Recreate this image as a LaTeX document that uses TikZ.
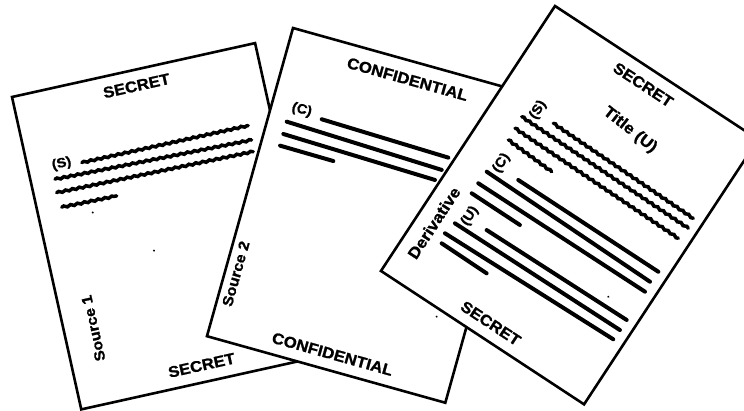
\documentclass[tikz,border=0pt]{standalone}
\usepackage{fontspec}
\setmainfont{Liberation Sans}
\newfontfamily\labfont{Liberation Sans Bold}[FakeStretch=1.08, FakeBold=1.2]
\usetikzlibrary{decorations.pathmorphing}
\begin{document}
\begin{tikzpicture}[x=1pt,y=-1pt,
  page/.style={draw=black, fill=white, line width=2.6pt, line join=miter},
  txtline/.style={line width=4pt, line cap=round},
  wavy/.style={line width=3.5pt, line cap=round, decorate,
    decoration={snake, amplitude=0.8pt, segment length=7pt}},
  lab/.style={font=\labfont\fontsize{15.5}{15.5}\selectfont, inner sep=0pt, transform shape},
  src/.style={font=\labfont\fontsize{14.7}{14.7}\selectfont, inner sep=0pt, transform shape},
  big/.style={font=\labfont\fontsize{15.9}{15.9}\selectfont, inner sep=0pt, transform shape},
  pmark/.style={font=\labfont\fontsize{13.5}{13.5}\selectfont, inner sep=0pt, transform shape},
  speck/.style={fill=black}
]
\useasboundingbox (0,0) rectangle (744,411);
\clip (0,0) rectangle (744,411);

% ---------- page 1 (Source 1) ----------
\begin{scope}[shift={(12,97)}, rotate=12.5]
  \draw[page] (0,0) -- (249,0) -- (249,320) -- (0,320) -- cycle;
  \node[lab] (p1top) at (124,16) {SECRET};
  \node[pmark] (p1s) at (34,76) {(S)};
  \draw[wavy] (54,79.2) -- (224.4,79);
  \draw[wavy] (24.2,89.6) -- (224.6,93.8);
  \draw[wavy] (22.9,103.1) -- (223.7,105.5);
  \draw[wavy] (24.7,118.4) -- (80.8,119.2);
  \fill[speck] (53.8,130.3) circle (1.1);
  \fill[speck] (105.4,180.7) circle (1.1);
  \node[src, rotate=90] (p1src) at (29.4,243.4) {Source 1};
  \node[lab] (p1bot) at (127,303) {SECRET};
\end{scope}

% ---------- page 2 (Source 2) ----------
\begin{scope}[shift={(293,28)}, rotate=-15.6]
  \draw[page] (0,0) -- (247.5,0) -- (247.5,320) -- (0,320) -- cycle;
  \node[lab] (p2top) at (124.1,18.5) {CONFIDENTIAL};
  \node[pmark] (p2c) at (30.5,76.6) {(C)};
  \draw[txtline] (52.2,80.2) -- (184.5,83.1);
  \draw[txtline] (19.1,91.9) -- (181.4,96.7);
  \draw[txtline] (19.2,104.7) -- (177.6,108.2);
  \draw[txtline] (19.2,116.8) -- (74.6,117.3);
  \fill[speck] (216,239.4) circle (1.1);
  \node[src, rotate=90] (p2src) at (11,252.1) {Source 2};
  \node[lab] (p2bot) at (125.7,303.5) {CONFIDENTIAL};
\end{scope}

% ---------- page 3 (Derivative) ----------
\begin{scope}[shift={(555,6)}, rotate=-33.3]
  \draw[page] (0,0) -- (243,0) -- (243,317) -- (0,317) -- cycle;
  \node[lab] (p3top) at (117,17.4) {SECRET};
  \node[big, rotate=-5] (p3title) at (130.8,62.5) {Title (U)};
  \node[pmark, rotate=90] (p3s) at (42.9,96.2) {(S)};
  \draw[wavy] (63,99) -- (232.2,101.6);
  \draw[wavy] (33,110.8) -- (233.4,112.6);
  \draw[wavy] (33.7,124.2) -- (230.6,126.5);
  \draw[wavy] (34.6,137.6) -- (88.2,140.3);
  \node[pmark, rotate=90] (p3c) at (41.5,160.7) {(C)};
  \draw[txtline] (64.8,165.6) -- (232.3,165.4);
  \draw[txtline] (33.9,176) -- (230.8,178.3);
  \draw[txtline] (33.2,190.3) -- (232.1,189.4);
  \draw[txtline] (33.2,202.3) -- (90.9,202.3);
  \fill[speck] (204.2,213.7) circle (1.1);
  \node[pmark, rotate=90] (p3u) at (44.2,222.3) {(U)};
  \draw[txtline] (65.9,224.8) -- (232.3,223.1);
  \draw[txtline] (35.7,236.6) -- (232.2,235.2);
  \draw[txtline] (32.8,250.4) -- (231.7,246.6);
  \draw[txtline] (35.6,260.6) -- (89.6,261);
  \node[big, rotate=90] (p3der) at (17.9,247.8) {Derivative};
  \node[lab] (p3bot) at (120.5,300.5) {SECRET};
\end{scope}
\end{tikzpicture}
\end{document}
